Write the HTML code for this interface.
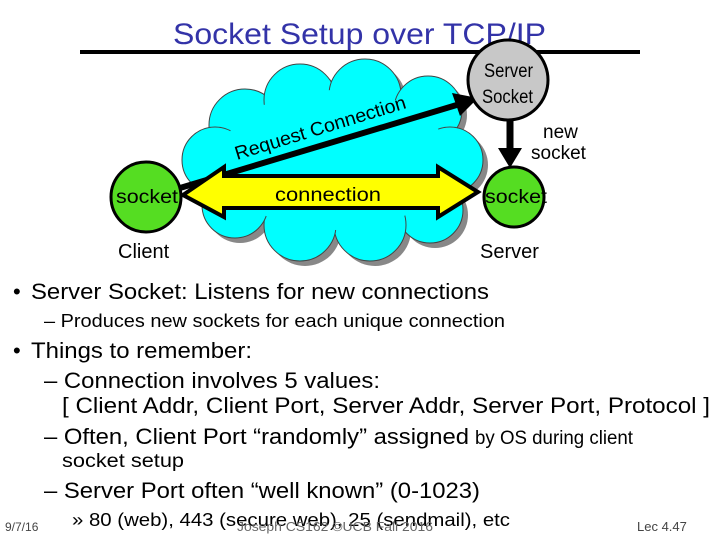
<!DOCTYPE html>
<html><head><meta charset="utf-8"><style>
body{margin:0;background:#fff}
svg{display:block}
text{font-family:"Liberation Sans",sans-serif}
</style></head><body>
<svg width="720" height="540" viewBox="0 0 720 540" xmlns="http://www.w3.org/2000/svg">
<text x="173" y="44" font-size="30" fill="#3333a8" textLength="373" lengthAdjust="spacingAndGlyphs">Socket Setup over TCP/IP</text>
<line x1="80" y1="52" x2="640" y2="52" stroke="#000" stroke-width="4"/>
<g fill="#888" transform="translate(5,5)">
<circle cx="245" cy="125" r="36"/><circle cx="300" cy="100" r="36"/><circle cx="365" cy="95" r="36"/><circle cx="428" cy="110" r="34"/>
<circle cx="450" cy="160" r="33"/><circle cx="430" cy="210" r="33"/><circle cx="370" cy="225" r="36"/><circle cx="300" cy="225" r="36"/>
<circle cx="235" cy="205" r="33"/><circle cx="215" cy="160" r="33"/><ellipse cx="335" cy="160" rx="115" ry="70"/>
</g>
<g fill="#00ffff" stroke="#444" stroke-width="1">
<circle cx="245" cy="125" r="36"/><circle cx="300" cy="100" r="36"/><circle cx="365" cy="95" r="36"/><circle cx="428" cy="110" r="34"/>
<circle cx="450" cy="160" r="33"/><circle cx="430" cy="210" r="33"/><circle cx="370" cy="225" r="36"/><circle cx="300" cy="225" r="36"/>
<circle cx="235" cy="205" r="33"/><circle cx="215" cy="160" r="33"/>
</g>
<ellipse cx="335" cy="160" rx="115" ry="70" fill="#00ffff"/>
<line x1="180" y1="188" x2="460" y2="104" stroke="#000" stroke-width="6"/>
<polygon points="478,98 452,93 460,116" fill="#000"/>
<text transform="translate(237,160) rotate(-17)" font-size="19" fill="#000" textLength="178" lengthAdjust="spacingAndGlyphs">Request Connection</text>
<polygon points="183,195 224,167 224,176 438,176 438,167 478,192 438,217 438,208 224,208 224,217" fill="#ffff00" stroke="#000" stroke-width="4" stroke-linejoin="miter"/>
<text x="275" y="201" font-size="19" textLength="106" lengthAdjust="spacingAndGlyphs">connection</text>
<circle cx="508" cy="80" r="40" fill="#c8c8c8" stroke="#000" stroke-width="3"/>
<text x="484" y="77" font-size="19" textLength="49" lengthAdjust="spacingAndGlyphs">Server</text>
<text x="482" y="103" font-size="19" textLength="51" lengthAdjust="spacingAndGlyphs">Socket</text>
<line x1="510" y1="120" x2="510" y2="150" stroke="#000" stroke-width="7"/>
<polygon points="498,148 522,148 510,168" fill="#000"/>
<text x="543" y="138" font-size="19">new</text>
<text x="531" y="159" font-size="19">socket</text>
<circle cx="146" cy="197" r="35" fill="#55dd22" stroke="#000" stroke-width="3"/>
<text x="116" y="203" font-size="19" textLength="62" lengthAdjust="spacingAndGlyphs">socket</text>
<circle cx="514" cy="197" r="30" fill="#55dd22" stroke="#000" stroke-width="3"/>
<text x="485" y="203" font-size="19" textLength="62" lengthAdjust="spacingAndGlyphs">socket</text>
<text x="118" y="258" font-size="20">Client</text>
<text x="480" y="258" font-size="20">Server</text>
<g fill="#000">
<text x="13" y="299" font-size="22">•</text>
<text x="31" y="299" font-size="22" textLength="458" lengthAdjust="spacingAndGlyphs">Server Socket: Listens for new connections</text>
<text x="44" y="327" font-size="18" textLength="461" lengthAdjust="spacingAndGlyphs">– Produces new sockets for each unique connection</text>
<text x="13" y="358" font-size="22">•</text>
<text x="31" y="358" font-size="22" textLength="221" lengthAdjust="spacingAndGlyphs">Things to remember:</text>
<text x="44" y="388" font-size="22" textLength="336" lengthAdjust="spacingAndGlyphs">– Connection involves 5 values:</text>
<text x="62" y="413" font-size="22" textLength="648" lengthAdjust="spacingAndGlyphs">[ Client Addr, Client Port, Server Addr, Server Port, Protocol ]</text>
<text x="44" y="444" font-size="22" textLength="425" lengthAdjust="spacingAndGlyphs">– Often, Client Port “randomly” assigned</text>
<text x="475" y="444" font-size="19" textLength="158" lengthAdjust="spacingAndGlyphs">by OS during client</text>
<text x="62" y="467" font-size="19" textLength="122" lengthAdjust="spacingAndGlyphs">socket setup</text>
<text x="44" y="498" font-size="22" textLength="436" lengthAdjust="spacingAndGlyphs">– Server Port often “well known” (0-1023)</text>
<text x="72" y="526" font-size="18" textLength="438" lengthAdjust="spacingAndGlyphs">» 80 (web), 443 (secure web), 25 (sendmail), etc</text>
</g>
<text x="5" y="531" font-size="12" fill="#444">9/7/16</text>
<text x="237" y="531" font-size="13" fill="#666" textLength="196" lengthAdjust="spacingAndGlyphs">Joseph CS162 ©UCB Fall 2016</text>
<text x="637" y="531" font-size="13" fill="#444">Lec 4.47</text>
</svg>
</body></html>
